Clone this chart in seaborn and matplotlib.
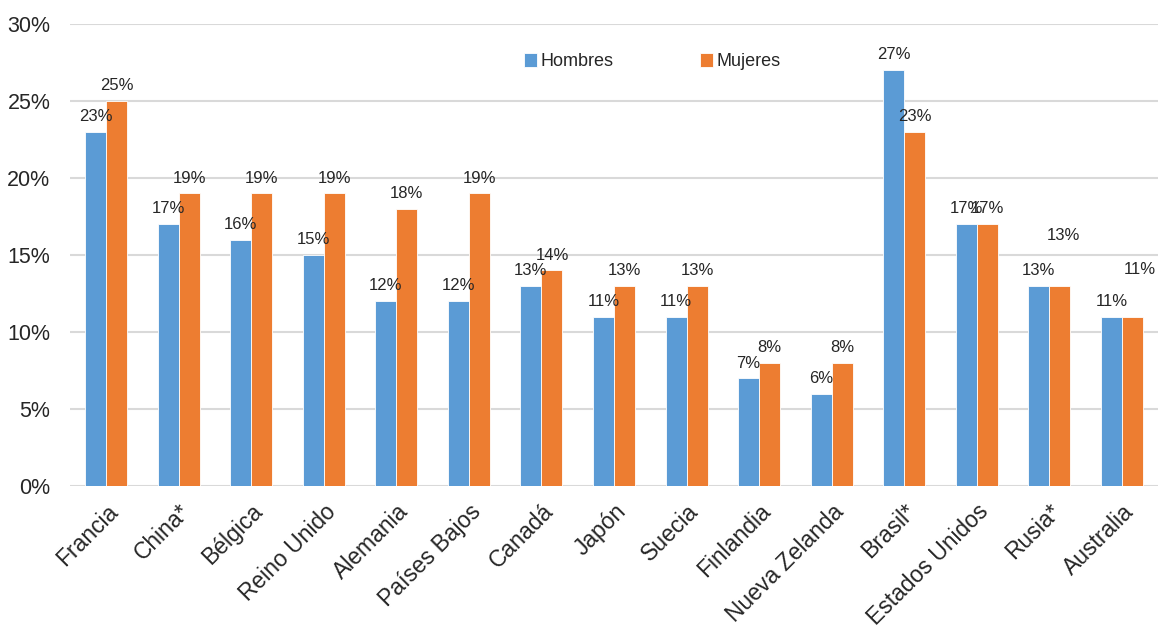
import matplotlib
matplotlib.use("Agg")
import matplotlib.pyplot as plt
import seaborn as sns
import pandas as pd

paises = ["Francia", "China*", "Bélgica", "Reino Unido", "Alemania", "Países Bajos",
          "Canadá", "Japón", "Suecia", "Finlandia", "Nueva Zelanda", "Brasil*",
          "Estados Unidos", "Rusia*", "Australia"]
hombres = [23, 17, 16, 15, 12, 12, 13, 11, 11, 7, 6, 27, 17, 13, 11]
mujeres = [25, 19, 19, 19, 18, 19, 14, 13, 13, 8, 8, 23, 17, 13, 11]
series = ["Hombres", "Mujeres"]
colores = ["#5B9BD5", "#ED7D31"]

df = pd.DataFrame({
    "País": paises * 2,
    "Sexo": ["Hombres"] * len(paises) + ["Mujeres"] * len(paises),
    "Valor": hombres + mujeres,
})

sns.set_style("white")
plt.rcParams["font.family"] = ["Liberation Sans", "DejaVu Sans"]

fig = plt.figure(figsize=(11.64, 6.28), dpi=100)
ax = fig.add_axes([0.060, 0.226, 0.935, 0.736])

sns.barplot(data=df, x="País", y="Valor", hue="Sexo", palette=colores,
            hue_order=series, width=0.58, saturation=1, gap=0, ax=ax,
            edgecolor="white", linewidth=0.6)

ax.set_ylim(0, 30)
ax.set_xlim(-0.5, len(paises) - 0.5)
ax.set_yticks(range(0, 31, 5))
ax.set_yticklabels([f"{v}%" for v in range(0, 31, 5)], fontsize=15.5)
ax.yaxis.grid(True, color="#D9D9D9", linewidth=1.5)
ax.set_axisbelow(True)
for s in ax.spines.values():
    s.set_visible(False)
ax.tick_params(axis="y", length=0, pad=14)
ax.tick_params(axis="x", length=0, pad=10)
ax.set_xlabel("")
ax.set_ylabel("")
plt.setp(ax.get_xticklabels(), rotation=45, ha="right", rotation_mode="anchor", fontsize=16.5)

# Excel-style labels; a few were shifted by hand in the original
extra = {("Mujeres", "Rusia*"): (0.05, 2.3), ("Mujeres", "Australia"): (0.1, 2.1)}
for cont, name in zip(ax.containers, series):
    for bar, pais in zip(cont, paises):
        h = bar.get_height()
        dx, dy = extra.get((name, pais), (0, 0))
        ax.text(bar.get_x() + bar.get_width() / 2 + dx, h + 0.5 + dy, f"{h:.0f}%",
                ha="center", va="bottom", fontsize=12, clip_on=False)

ax.legend(loc="center", bbox_to_anchor=(0.535, 0.918), ncol=2, frameon=False,
          fontsize=13, handlelength=0.75, handleheight=0.75, handletextpad=0.15,
          columnspacing=4.8)

fig.savefig("out.png", dpi=100)
